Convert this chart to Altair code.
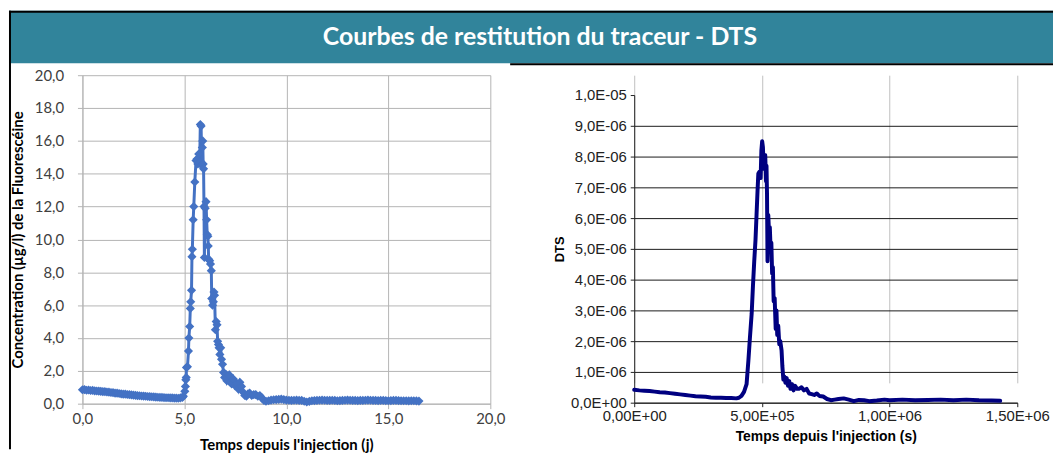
import altair as alt
import pandas as pd

TITLE = "Courbes de restitution du traceur - DTS"

# ---- left panel: concentration vs time (days) ----
days = [0.0, 0.1, 0.2, 0.3, 0.4, 0.5, 0.6, 0.7, 0.8, 0.9, 1.0, 1.1, 1.2, 1.3, 1.4, 1.5,
        1.6, 1.7, 1.8, 1.9, 2.0, 2.1, 2.2, 2.3, 2.4, 2.5, 2.6, 2.7, 2.8, 2.9, 3.0, 3.1,
        3.2, 3.3, 3.4, 3.5, 3.6, 3.7, 3.8, 3.9, 4.0, 4.1, 4.2, 4.3, 4.4, 4.5, 4.6, 4.7,
        4.8, 4.9, 4.95, 5.02, 5.05, 5.07, 5.09, 5.10,
        5.15, 5.20, 5.22, 5.26, 5.29, 5.31, 5.35, 5.37, 5.39, 5.43, 5.46, 5.51, 5.57,
        5.62, 5.66, 5.70, 5.75, 5.78, 5.82, 5.85, 5.88, 5.90, 5.92, 5.94, 5.96, 5.98,
        6.02, 6.06, 6.09, 6.12, 6.15, 6.17, 6.19, 6.24, 6.28, 6.32, 6.34, 6.38, 6.42,
        6.45, 6.48, 6.52, 6.56, 6.60, 6.63, 6.67, 6.70, 6.74, 6.78, 6.82, 6.87, 6.92,
        6.97, 7.02, 7.08, 7.14, 7.20, 7.26, 7.32, 7.40, 7.48, 7.56, 7.64, 7.72, 7.80,
        7.88, 7.96, 8.04, 8.12, 8.20, 8.30, 8.40, 8.50, 8.60, 8.70, 8.80, 8.90, 9.0,
        9.125, 9.25, 9.375, 9.5, 9.625, 9.75, 9.875, 10.0, 10.125, 10.25, 10.375, 10.5,
        10.625, 10.75, 10.875, 11.0, 11.125, 11.25, 11.375, 11.5, 11.625, 11.75, 11.875,
        12.0, 12.125, 12.25, 12.375, 12.5, 12.625, 12.75, 12.875, 13.0, 13.125, 13.25,
        13.375, 13.5, 13.625, 13.75, 13.875, 14.0, 14.125, 14.25, 14.375, 14.5, 14.625,
        14.75, 14.875, 15.0, 15.125, 15.25, 15.375, 15.5, 15.625, 15.75, 15.875, 16.0,
        16.125, 16.25, 16.375, 16.5]
conc = [0.85, 0.86, 0.82, 0.83, 0.80, 0.81, 0.78, 0.77, 0.76, 0.75, 0.73, 0.73, 0.71,
        0.70, 0.68, 0.67, 0.64, 0.64, 0.62, 0.60, 0.58, 0.58, 0.56, 0.55, 0.54, 0.52,
        0.51, 0.49, 0.48, 0.47, 0.46, 0.45, 0.44, 0.43, 0.42, 0.41, 0.40, 0.39, 0.38,
        0.38, 0.37, 0.36, 0.36, 0.35, 0.35, 0.34, 0.34, 0.33, 0.35, 0.38, 0.45, 0.75,
        1.05, 1.45, 1.6, 2.2, 2.25, 3.2, 4.0, 4.7, 5.8, 6.2, 6.9, 8.95, 9.4, 11.2, 12.0,
        13.5, 14.8, 14.9, 14.6, 15.2, 14.7, 17.0, 16.9, 14.5, 15.6, 16.0, 14.6, 14.3,
        12.0, 8.9, 11.9, 12.3, 11.2, 10.3, 10.2, 9.6, 8.8, 8.7, 8.5, 8.1, 6.4, 6.0, 6.2,
        6.8, 6.6, 4.5, 5.0, 4.8, 3.8, 3.6, 3.4, 3.0, 3.4, 2.7, 2.4, 1.9, 1.6, 1.8, 1.4,
        1.6, 1.75, 1.3, 1.2, 1.5, 1.1, 1.25, 0.9, 1.3, 1.05, 0.7, 0.5, 0.45, 0.6, 0.65,
        0.5, 0.55, 0.55, 0.45, 0.5, 0.35, 0.2, 0.15,
        0.18, 0.22, 0.24, 0.25, 0.26, 0.28, 0.25, 0.22, 0.21, 0.2, 0.21, 0.22,
        0.2, 0.2, 0.15, 0.1, 0.14, 0.18, 0.19, 0.2, 0.21, 0.22, 0.21,
        0.2, 0.2, 0.21, 0.2, 0.18, 0.19, 0.2, 0.21, 0.22, 0.21, 0.2,
        0.2, 0.19, 0.2, 0.2, 0.21, 0.22, 0.21, 0.2, 0.2, 0.19, 0.2,
        0.2, 0.19, 0.18, 0.19, 0.2, 0.2, 0.19, 0.18, 0.18, 0.18, 0.17,
        0.18, 0.18, 0.17, 0.16]

# ---- right panel: DTS vs time (seconds) ----
secs = [0, 2e4, 4e4, 6e4, 8e4, 1e5, 1.2e5, 1.4e5, 1.6e5, 1.8e5, 2e5, 2.2e5, 2.4e5, 2.6e5,
        2.8e5, 3.0e5, 3.2e5, 3.4e5, 3.6e5, 3.8e5, 4.0e5, 4.1e5, 4.2e5, 4.3e5, 4.4e5,
        4.47e5, 4.53e5, 4.6e5, 4.65e5, 4.7e5, 4.75e5, 4.79e5, 4.83e5, 4.86e5, 4.9e5,
        4.95e5, 4.98e5, 5.01e5, 5.04e5, 5.07e5, 5.1e5, 5.13e5, 5.16e5, 5.18e5, 5.2e5,
        5.22e5, 5.25e5, 5.28e5, 5.31e5, 5.34e5, 5.37e5, 5.4e5, 5.43e5, 5.46e5, 5.5e5,
        5.54e5, 5.57e5, 5.6e5, 5.64e5, 5.68e5, 5.72e5, 5.77e5, 5.8e5, 5.84e5, 5.88e5,
        5.92e5, 5.97e5, 6.02e5, 6.07e5, 6.12e5, 6.18e5, 6.24e5, 6.3e5, 6.38e5, 6.45e5,
        6.55e5, 6.65e5, 6.75e5, 6.85e5, 6.95e5, 7.05e5, 7.15e5, 7.25e5, 7.4e5, 7.55e5,
        7.7e5, 7.85e5, 8.0e5, 8.2e5, 8.4e5, 8.6e5, 8.8e5, 9.0e5, 9.2e5, 9.5e5, 9.8e5,
        1.0e6, 1.05e6, 1.1e6, 1.15e6, 1.2e6, 1.25e6, 1.3e6, 1.35e6, 1.4e6, 1.433e6]
dts = [4.2e-7, 4.0e-7, 3.9e-7, 3.8e-7, 3.6e-7, 3.4e-7, 3.3e-7, 3.1e-7, 2.9e-7, 2.7e-7,
       2.5e-7, 2.3e-7, 2.1e-7, 2.0e-7, 1.9e-7, 1.7e-7, 1.6e-7, 1.6e-7, 1.5e-7, 1.5e-7,
       1.4e-7, 1.6e-7, 2.2e-7, 3.5e-7, 6.0e-7, 1.36e-6, 2.1e-6, 2.9e-6, 3.8e-6, 4.6e-6,
       5.3e-6, 6.1e-6, 6.9e-6, 7.45e-6, 7.5e-6, 7.3e-6, 8.2e-6, 8.5e-6, 8.3e-6, 7.6e-6,
       8.0e-6, 8.05e-6, 7.2e-6, 7.7e-6, 6.8e-6, 4.6e-6, 6.1e-6, 5.5e-6, 5.7e-6, 5.0e-6,
       5.2e-6, 4.2e-6, 4.4e-6, 3.3e-6, 3.4e-6, 2.4e-6, 3.0e-6, 2.2e-6, 2.5e-6, 1.9e-6,
       2.0e-6, 1.7e-6, 1.2e-6, 0.75e-6, 0.85e-6, 0.65e-6, 0.8e-6, 0.55e-6, 0.7e-6,
       0.45e-6, 0.6e-6, 0.4e-6, 0.55e-6, 0.45e-6, 0.45e-6, 0.5e-6, 0.4e-6, 0.45e-6,
       0.3e-6, 0.28e-6, 0.25e-6, 0.3e-6, 0.22e-6, 0.2e-6, 0.12e-6, 0.08e-6, 0.1e-6,
       0.12e-6, 0.14e-6, 0.1e-6, 0.05e-6, 0.09e-6, 0.08e-6, 0.05e-6, 0.07e-6, 0.1e-6,
       0.08e-6, 0.1e-6, 0.08e-6, 0.09e-6, 0.1e-6, 0.08e-6, 0.1e-6, 0.08e-6, 0.07e-6,
       0.06e-6]

# tick values and labels
LX_TICKS = [0, 5, 10, 15, 20]
LX_LABELS = ["0,0", "5,0", "10,0", "15,0", "20,0"]
LY_TICKS = [0, 2, 4, 6, 8, 10, 12, 14, 16, 18, 20]
LY_LABELS = ["0,0", "2,0", "4,0", "6,0", "8,0", "10,0", "12,0", "14,0", "16,0", "18,0", "20,0"]
RX_TICKS = [0, 5e5, 1e6, 1.5e6]
RX_LABELS = ["0,00E+00", "5,00E+05", "1,00E+06", "1,50E+06"]
RY_TICKS = [0, 1e-6, 2e-6, 3e-6, 4e-6, 5e-6, 6e-6, 7e-6, 8e-6, 9e-6, 1e-5]
RY_LABELS = ["0,0E+00", "1,0E-06", "2,0E-06", "3,0E-06", "4,0E-06", "5,0E-06",
             "6,0E-06", "7,0E-06", "8,0E-06", "9,0E-06", "1,0E-05"]


def arr(labels):
    return "[" + ",".join("'" + s + "'" for s in labels) + "]"


TEAL = "#31849b"
LBLUE = "#4472c4"
NAVY = "#000080"
LGRID = "#b4b4b4"
RFONT = "Liberation Sans"
RFS = 15

LW, LH = 411, 331
RW, RH = 386, 330

left_df = pd.DataFrame({"t": days, "c": conc})
right_df = pd.DataFrame({"t": secs, "d": dts})
one = pd.DataFrame({"k": [0]})

banner = alt.Chart(one).mark_rect(color=TEAL).encode(
    x=alt.value(-74), x2=alt.value(978), y=alt.value(-65), y2=alt.value(-12))
top_rule = alt.Chart(one).mark_rule(color="black", strokeWidth=2).encode(
    x=alt.value(-74), x2=alt.value(978), y=alt.value(-64))
left_rule = alt.Chart(one).mark_rule(color="black", strokeWidth=2).encode(
    x=alt.value(-73), y=alt.value(-65), y2=alt.value(377))
bottom_rule = alt.Chart(one).mark_rule(color="black", strokeWidth=2).encode(
    x=alt.value(431), x2=alt.value(978), y=alt.value(-11))
banner_text = alt.Chart(one).mark_text(
    font="Lato", fontSize=25, fontWeight="bold", color="white",
    align="center", baseline="middle").encode(
    x=alt.value(461), y=alt.value(-38), text=alt.value(TITLE))

left_line = alt.Chart(left_df).mark_line(
    color=LBLUE, strokeWidth=3,
    point=alt.OverlayMarkDef(shape="diamond", size=85, filled=True, color=LBLUE)
).encode(
    x=alt.X("t:Q", scale=alt.Scale(domain=[0, 20], nice=False, zero=False),
            axis=alt.Axis(values=LX_TICKS, labelExpr=arr(LX_LABELS) + "[round(datum.value/5)]",
                          grid=True, gridColor=LGRID, domainColor=LGRID, tickColor=LGRID,
                          tickSize=5, labelFont="Lato", labelFontSize=15, labelColor="#404040",
                          labelPadding=3, labelFlush=False, labelOverlap=False,
                          title="Temps depuis l'injection (j)", titleFont="Lato",
                          titleFontSize=15, titleFontWeight="bold", titleColor="black",
                          titlePadding=11)),
    y=alt.Y("c:Q", scale=alt.Scale(domain=[0, 20], nice=False),
            axis=alt.Axis(values=LY_TICKS, labelExpr=arr(LY_LABELS) + "[round(datum.value/2)]",
                          grid=True, gridColor=LGRID, domainColor=LGRID, tickColor=LGRID,
                          tickSize=5, labelFont="Lato", labelFontSize=15, labelColor="#404040",
                          labelPadding=14, labelFlush=False, labelOverlap=False,
                          title="Concentration (µg/l) de la Fluorescéine", titleFont="Lato",
                          titleFontSize=15, titleFontWeight="bold", titleColor="black",
                          titlePadding=9)),
)

left = alt.layer(banner, top_rule, left_rule, bottom_rule, banner_text, left_line).properties(
    width=LW, height=LH)

right = alt.Chart(right_df).mark_line(
    color=NAVY, strokeWidth=4, strokeJoin="round", strokeCap="round"
).encode(
    x=alt.X("t:Q", scale=alt.Scale(domain=[0, 1.5e6], nice=False, zero=False),
            axis=alt.Axis(values=RX_TICKS, labelExpr=arr(RX_LABELS) + "[round(datum.value/500000)]",
                          grid=True, gridColor="#c0c0c0", domainColor="#222222",
                          tickColor="#222222", tickSize=4, labelFont=RFONT,
                          labelFontSize=RFS, labelColor="#222222", labelPadding=2,
                          labelFlush=False, labelOverlap=False,
                          title="Temps depuis l'injection (s)", titleFont=RFONT,
                          titleFontSize=14, titleFontWeight="bold", titleColor="black",
                          titlePadding=6)),
    y=alt.Y("d:Q", scale=alt.Scale(domain=[0, 1e-5], nice=False, range=[RH, 20]),
            axis=alt.Axis(values=RY_TICKS, labelExpr=arr(RY_LABELS) + "[round(datum.value*1000000)]",
                          grid=True, gridColor="#1a1a1a",
                          gridOpacity={"condition": {"test": "datum.value > 0.0000095", "value": 0},
                                       "value": 1},
                          domainColor="#222222", tickColor="#222222", tickSize=4,
                          labelFont=RFONT, labelFontSize=RFS, labelColor="#222222",
                          labelPadding=4, labelFlush=False, labelOverlap=False,
                          title="DTS", titleFont=RFONT, titleFontSize=13,
                          titleFontWeight="bold", titleColor="black", titlePadding=4)),
).properties(width=RW, height=RH)

chart = alt.hconcat(left, right, spacing=145, bounds="flush").properties(
    padding=0
).configure_view(stroke=None).resolve_scale(x="independent", y="independent")

chart.save("out.html", embed_options={"renderer": "svg", "actions": False})
